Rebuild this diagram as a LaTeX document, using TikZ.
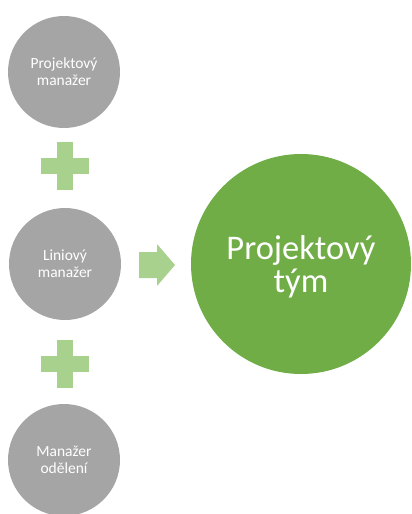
\documentclass[tikz,border=0pt]{standalone}
\usepackage{fontspec}
\setmainfont{Carlito}
\definecolor{grayc}{HTML}{A5A5A5}
\definecolor{lightg}{HTML}{A9D18E}
\definecolor{darkg}{HTML}{70AD47}
\tikzset{
  smallc/.style={circle, fill=grayc, minimum size=112pt, inner sep=0pt, text=white, align=center, font=\fontsize{15.5}{17}\selectfont},
  bigc/.style={circle, fill=darkg, minimum size=220pt, inner sep=0pt},
  bigtext/.style={text=white, align=center, inner sep=0pt, font=\fontsize{34.5}{33}\selectfont},
  plusc/.style={fill=lightg},
}
\begin{document}
\begin{tikzpicture}[x=1pt,y=-1pt]
\useasboundingbox (0,0) rectangle (412,514);
\node[smallc] (a) at (64,72) {Projektový\\manažer};
\node[smallc] (b) at (65,264) {Liniový\\manažer};
\node[smallc] (c) at (64,460) {Manažer\\odělení};
\node[bigc] (t) at (301,264) {};
\node[bigtext] (tl) at (301,267) {Projektový\\tým};
% plus signs
\fill[plusc] (57,142) rectangle (73,190);
\fill[plusc] (41,158) rectangle (89,174);
\fill[plusc] (57,340) rectangle (73,388);
\fill[plusc] (41,356) rectangle (89,372);
% arrow
\fill[plusc] (139,252) -- (157,252) -- (157,244) -- (175,265) -- (157,286) -- (157,278) -- (139,278) -- cycle;
\end{tikzpicture}
\end{document}
